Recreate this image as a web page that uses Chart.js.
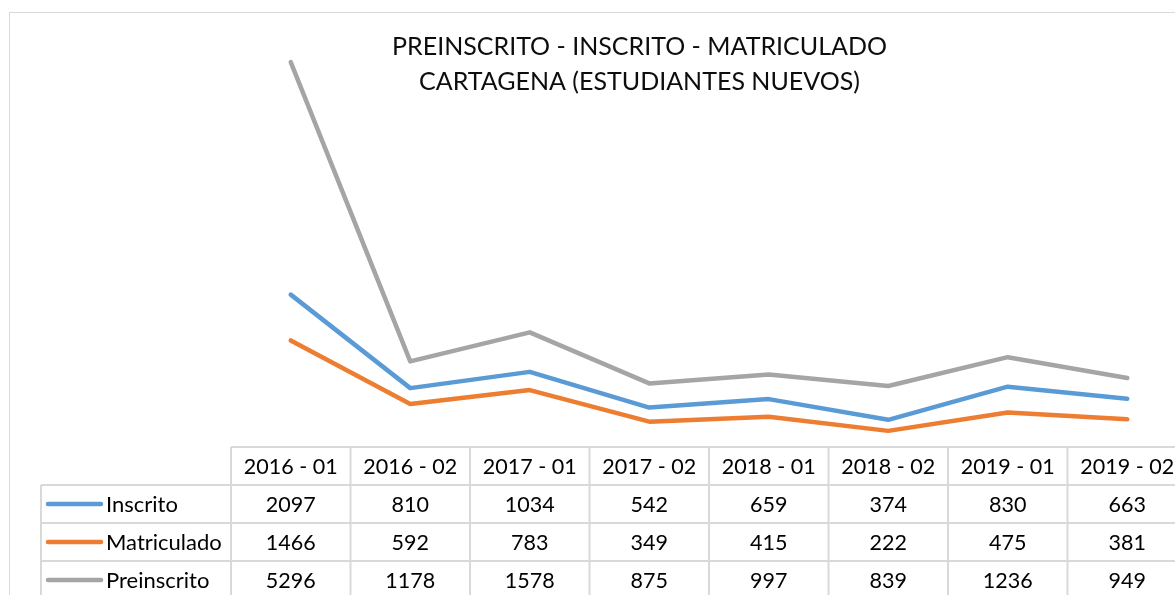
<!DOCTYPE html>
<html>
<head>
<meta charset="utf-8">
<script src="https://cdn.jsdelivr.net/npm/chart.js@4/dist/chart.umd.min.js"></script>
<style>
  html, body { margin: 0; padding: 0; background: #fff; }
  #wrap { width: 1175px; height: 595px; overflow: hidden; position: relative; background: #fff; }
  canvas { display: block; }
</style>
</head>
<body>
<div id="wrap"><canvas id="c" width="1210" height="640"></canvas></div>
<script>
const categories = ['2016 - 01', '2016 - 02', '2017 - 01', '2017 - 02', '2018 - 01', '2018 - 02', '2019 - 01', '2019 - 02'];
const inscrito    = [2097, 810, 1034, 542, 659, 374, 830, 663];
const matriculado = [1466, 592, 783, 349, 415, 222, 475, 381];
const preinscrito = [5296, 1178, 1578, 875, 997, 839, 1236, 949];
const titleLines = ['PREINSCRITO - INSCRITO - MATRICULADO', 'CARTAGENA (ESTUDIANTES NUEVOS)'];

const seriesDefs = [
  { label: 'Inscrito', data: inscrito, color: '#5B9BD5' },
  { label: 'Matriculado', data: matriculado, color: '#ED7D31' },
  { label: 'Preinscrito', data: preinscrito, color: '#A5A5A5' }
];

const FONT = 'Lato, "Open Sans", sans-serif';
const GRID = '#d9d9d9';
const TEXT = '#000000';

const decorPlugin = {
  id: 'decor',
  beforeDraw(chart) {
    const ctx = chart.ctx;
    ctx.save();
    ctx.fillStyle = '#fff';
    ctx.fillRect(0, 0, chart.width, chart.height);
    ctx.strokeStyle = GRID;
    ctx.lineWidth = 1;
    ctx.strokeRect(9.5, 12.5, chart.width + 50, chart.height + 50);
    ctx.restore();
  },
  afterDraw(chart) {
    const ctx = chart.ctx;
    const area = chart.chartArea;
    const xs = chart.scales.x;
    const n = categories.length;
    const colW = (area.right - area.left) / n;
    const rowH = 38;
    const top = area.bottom;
    const headLeft = 41;
    ctx.save();
    // title
    ctx.fillStyle = '#0d0d0d';
    ctx.font = '25px ' + FONT;
    ctx.textAlign = 'center';
    ctx.textBaseline = 'middle';
    ctx.fillText(titleLines[0], 639.5, 47);
    ctx.fillText(titleLines[1], 639.5, 82);

    // grid
    ctx.strokeStyle = GRID;
    ctx.lineWidth = 2;
    ctx.beginPath();
    ctx.moveTo(area.left, top); ctx.lineTo(area.right + 40, top);
    for (let r = 1; r <= 4; r++) {
      const y = top + r * rowH;
      ctx.moveTo(headLeft, y); ctx.lineTo(area.right + 40, y);
    }
    ctx.moveTo(headLeft, top + rowH); ctx.lineTo(headLeft, top + 5 * rowH);
    for (let i = 0; i <= n; i++) {
      const x = area.left + i * colW;
      ctx.moveTo(x, top); ctx.lineTo(x, top + 5 * rowH);
    }
    ctx.stroke();

    // header text
    ctx.fillStyle = TEXT;
    ctx.font = '21.5px ' + FONT;
    ctx.textAlign = 'center';
    ctx.textBaseline = 'middle';
    categories.forEach((c, i) => {
      ctx.fillText(c, xs.getPixelForValue(i), top + rowH / 2 + 1);
    });
    // rows
    seriesDefs.forEach((s, r) => {
      const cy = top + (r + 1) * rowH + rowH / 2;
      ctx.strokeStyle = s.color;
      ctx.lineWidth = 4.5;
      ctx.lineCap = 'round';
      ctx.beginPath();
      ctx.moveTo(48, cy); ctx.lineTo(101, cy);
      ctx.stroke();
      ctx.fillStyle = TEXT;
      ctx.textAlign = 'left';
      ctx.font = '22px ' + FONT;
      ctx.fillText(s.label, 106, cy + 1);
      ctx.font = '21.5px ' + FONT;
      ctx.textAlign = 'center';
      s.data.forEach((v, i) => {
        ctx.fillText(String(v), xs.getPixelForValue(i), cy + 1);
      });
    });
    ctx.restore();
  }
};

new Chart(document.getElementById('c'), {
  type: 'line',
  data: {
    labels: categories,
    datasets: seriesDefs.map(s => ({
      label: s.label,
      data: s.data,
      borderColor: s.color,
      backgroundColor: s.color,
      borderWidth: 4.5,
      borderCapStyle: 'round',
      borderJoinStyle: 'round',
      pointRadius: 0,
      pointHoverRadius: 0,
      tension: 0,
      fill: false
    }))
  },
  options: {
    responsive: false,
    animation: false,
    devicePixelRatio: 1,
    layout: { padding: { left: 231, right: 23, top: 11, bottom: 193 } },
    plugins: { legend: { display: false }, title: { display: false }, tooltip: { enabled: false } },
    scales: {
      x: { type: 'category', offset: true, display: false },
      y: { min: 0, max: 6000, display: false }
    }
  },
  plugins: [decorPlugin]
});
</script>
</body>
</html>
